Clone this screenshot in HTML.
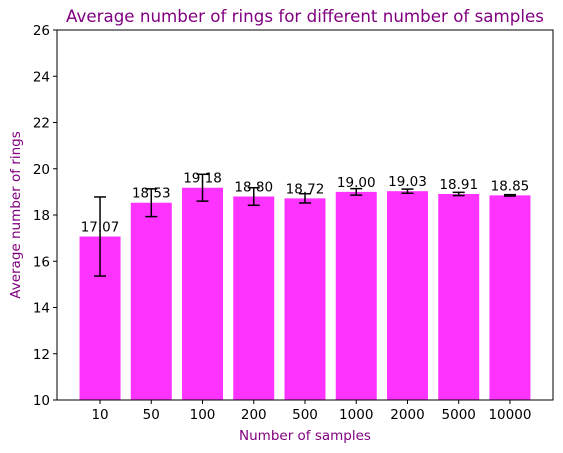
<!DOCTYPE html>
<html><head><meta charset="utf-8"><style>
html,body{margin:0;padding:0;background:#fff;}
svg{display:block;font-family:"DejaVu Sans","Liberation Sans",sans-serif;}
</style></head><body>
<svg id="chart" width="563" height="453" xmlns="http://www.w3.org/2000/svg"></svg>
<script>
const categories = ["10","50","100","200","500","1000","2000","5000","10000"];
const values = [17.07,18.53,19.18,18.80,18.72,19.00,19.03,18.91,18.85];
const errors = [1.71,0.6,0.58,0.38,0.2,0.14,0.09,0.07,0.03];
const yTicks = [10,12,14,16,18,20,22,24,26];

const NS="http://www.w3.org/2000/svg";
const svg=document.getElementById('chart');
const L=57,R=553,T=30,B=400;
const yMin=10,yMax=26;
const n=categories.length;
const xMin=-0.84,xMax=n-1+0.84;
const xs=i=>L+(i-xMin)/(xMax-xMin)*(R-L);
const ys=v=>B-(v-yMin)/(yMax-yMin)*(B-T);
const bw=0.8*(R-L)/(xMax-xMin);
function mk(tag,attrs,parent){const e=document.createElementNS(NS,tag);for(const k in attrs)e.setAttribute(k,attrs[k]);(parent||svg).appendChild(e);return e;}

const bars=mk('g',{});


values.forEach((v,i)=>{
  const r=mk('rect',{x:xs(i)-bw/2,y:ys(v),width:bw,height:B-ys(v),fill:'#ff33ff'},bars);
  
  
});
values.forEach((v,i)=>{
  const g=mk('g',{stroke:'#000','stroke-width':1.5});
  
  
  const x=xs(i),y1=ys(v+errors[i]),y2=ys(v-errors[i]);
  mk('line',{x1:x,x2:x,y1:y1,y2:y2},g);
  mk('line',{x1:x-6,x2:x+6,y1:y1,y2:y1},g);
  mk('line',{x1:x-6,x2:x+6,y1:y2,y2:y2},g);
  const t=mk('text',{x:x,y:ys(v)-5,'text-anchor':'middle','font-size':13.5,fill:'#000'});
  t.textContent=v.toFixed(2);
  
  
});
const frame=mk('rect',{x:L,y:T,width:R-L,height:B-T,fill:'none',stroke:'#000','stroke-width':1});


yTicks.forEach(v=>{
  const y=ys(v);
  mk('line',{x1:L-4,x2:L,y1:y,y2:y,stroke:'#000'});
  const t=mk('text',{x:L-7,y:y+5,'text-anchor':'end','font-size':13.5});
  t.textContent=v;
  
  
});
categories.forEach((c,i)=>{
  const x=xs(i);
  mk('line',{x1:x,x2:x,y1:B,y2:B+4,stroke:'#000'});
  const t=mk('text',{x:x,y:B+19,'text-anchor':'middle','font-size':13.5});
  t.textContent=c;
  
  
});
const title=mk('text',{x:305,y:22,'text-anchor':'middle','font-size':16.7,fill:'#800080'});
title.textContent='Average number of rings for different number of samples';


const xt=mk('text',{x:(L+R)/2,y:440,'text-anchor':'middle','font-size':13.5,fill:'#800080'});
xt.textContent='Number of samples';


const yt=mk('text',{x:0,y:0,'text-anchor':'middle','font-size':13.5,fill:'#800080',transform:'translate(20,'+((T+B)/2)+') rotate(-90)'});
yt.textContent='Average number of rings';


</script>
</body></html>
